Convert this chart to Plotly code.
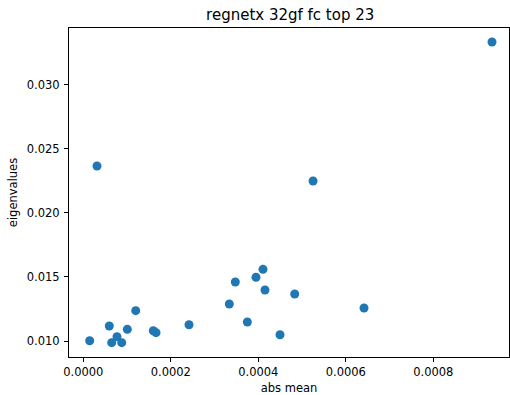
import plotly.graph_objects as go

abs_mean = [1.46e-5, 3.13e-5, 5.94e-5, 6.49e-5, 7.70e-5, 8.78e-5, 1.006e-4, 1.198e-4,
            1.600e-4, 1.662e-4, 2.416e-4, 3.337e-4, 3.474e-4, 3.749e-4, 3.947e-4,
            4.107e-4, 4.153e-4, 4.496e-4, 4.832e-4, 5.251e-4, 6.416e-4, 9.342e-4]
eigenvalues = [0.01002, 0.02367, 0.01117, 0.00987, 0.01034, 0.00987, 0.01091, 0.01237,
               0.01080, 0.01065, 0.01127, 0.01289, 0.01461, 0.01148, 0.01498,
               0.01560, 0.01398, 0.01049, 0.01367, 0.02250, 0.01258, 0.03336]
x_ticks = [0.0, 0.0002, 0.0004, 0.0006, 0.0008]
x_tick_labels = ["0.0000", "0.0002", "0.0004", "0.0006", "0.0008"]
y_ticks = [0.010, 0.015, 0.020, 0.025, 0.030]
y_tick_labels = ["0.010", "0.015", "0.020", "0.025", "0.030"]

fig = go.Figure(go.Scatter(
    x=abs_mean, y=eigenvalues, mode="markers",
    marker=dict(color="#1f77b4", size=9, line=dict(width=0)),
))

font = "DejaVu Sans"
fig.update_layout(
    width=510, height=395,
    margin=dict(l=69, r=1, t=28, b=38, autoexpand=False),
    paper_bgcolor="white", plot_bgcolor="white",
    font=dict(family=font, size=11.5, color="black"),
    title=dict(text="regnetx 32gf fc top 23", x=0.569, xanchor="center",
               y=0.962, yanchor="middle", pad=dict(t=0, b=0),
               font=dict(size=15, family=font)),
    showlegend=False,
)
fig.update_xaxes(
    range=[-3.27e-5, 9.73e-4], tickvals=x_ticks, ticktext=x_tick_labels,
    showgrid=False, zeroline=False, showline=True, linecolor="black", linewidth=1,
    mirror=True, ticks="outside", ticklen=4, tickcolor="black", automargin=False,
    title=dict(text="abs mean", font=dict(size=11.5), standoff=6),
)
fig.update_yaxes(
    range=[0.00875, 0.03445], tickvals=y_ticks, ticktext=y_tick_labels,
    showgrid=False, zeroline=False, showline=True, linecolor="black", linewidth=1,
    mirror=True, ticks="outside", ticklen=4, tickcolor="black", automargin=False,
    ticklabelstandoff=2,
    title=dict(text="eigenvalues", font=dict(size=11.5), standoff=6),
)

fig.write_html("out.html", config={"displayModeBar": False},
               post_script="document.body.style.margin='0';")
